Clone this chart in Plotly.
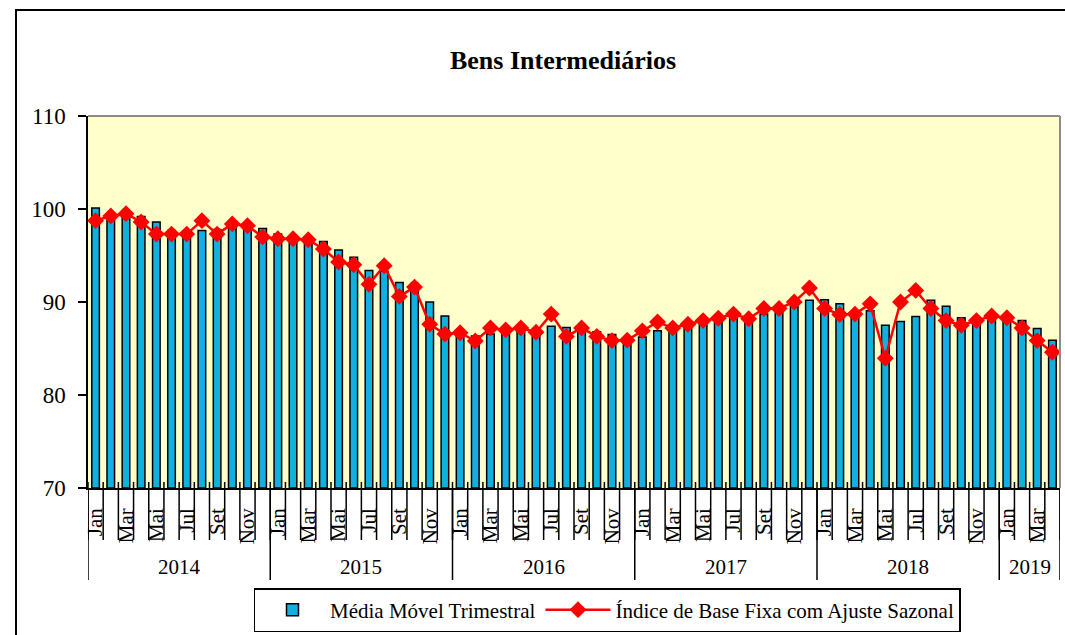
import plotly.graph_objects as go

# ---- data ----
years = [2014, 2015, 2016, 2017, 2018, 2019]
month_names = ["Jan", "Fev", "Mar", "Abr", "Mai", "Jun", "Jul", "Ago", "Set", "Out", "Nov", "Dez"]
months_per_year = [12, 12, 12, 12, 12, 4]

media_movel = [
    100.1, 99.5, 99.3, 99.2, 98.6, 97.7, 97.3, 97.7, 97.8, 98.2, 98.0, 97.9,
    97.3, 96.9, 96.8, 96.5, 95.6, 94.8, 93.4, 93.3, 92.1, 92.0, 90.0, 88.5,
    86.95, 86.35, 86.55, 86.65, 87.0, 87.0, 87.4, 87.25, 87.2, 86.8, 86.5, 86.05,
    86.25, 86.9, 87.2, 87.5, 87.65, 87.95, 88.3, 88.4, 88.7, 88.95, 89.5, 90.2,
    90.25, 89.8, 88.9, 89.05, 87.5, 87.9, 88.45, 90.2, 89.55, 88.3, 87.85, 88.0,
    88.25, 88.0, 87.15, 85.9,
]
indice_ajuste = [
    98.75, 99.25, 99.5, 98.6, 97.3, 97.3, 97.3, 98.75, 97.3, 98.4, 98.2, 97.0,
    96.8, 96.8, 96.7, 95.7, 94.3, 94.0, 91.9, 93.9, 90.6, 91.6, 87.6, 86.55,
    86.7, 85.8, 87.2, 87.0, 87.2, 86.75, 88.7, 86.3, 87.2, 86.3, 85.85, 85.9,
    86.9, 87.85, 87.2, 87.6, 88.0, 88.25, 88.7, 88.2, 89.3, 89.3, 90.0, 91.5,
    89.3, 88.65, 88.7, 89.8, 83.95, 90.0, 91.25, 89.3, 88.0, 87.5, 88.0, 88.5,
    88.3, 87.2, 85.85, 84.6,
]

# categories
categories = []
cat_month = []
for y, n in zip(years, months_per_year):
    for m in range(n):
        categories.append(f"{month_names[m]} {y}")
        cat_month.append(month_names[m])

SERIF = "Liberation Serif"
BASE = 70

W, H = 1065, 635
ML, MR, MT, MB = 88, 5, 116, 147
PW = W - ML - MR
PH = H - MT - MB

fig = go.Figure()
fig.add_trace(go.Bar(
    x=categories, y=[v - BASE for v in media_movel], base=BASE,
    name="Média Móvel Trimestral",
    width=0.5,
    marker=dict(color="#12B0E0", line=dict(color="black", width=1.5)),
))
fig.add_trace(go.Scatter(
    x=categories, y=indice_ajuste, name="Índice de Base Fixa com Ajuste Sazonal",
    mode="lines+markers",
    line=dict(color="#FF0000", width=2.5),
    marker=dict(symbol="diamond", size=13, color="#FF0000"),
))

# tick labels: every other month
tickvals = [categories[i] for i in range(0, len(categories), 2)]
ticktext = [cat_month[i] for i in range(0, len(categories), 2)]

n = len(categories)
shapes = []
# month separators
for i in range(n + 1):
    shapes.append(dict(type="line", xref="x", yref="paper", x0=i - 0.5, x1=i - 0.5,
                       y0=6 / PH, y1=-52 / PH, line=dict(color="black", width=1.5)))
# year separators and labels
bounds = [0]
for cnt in months_per_year:
    bounds.append(bounds[-1] + cnt)
for b in bounds:
    shapes.append(dict(type="line", xref="x", yref="paper", x0=b - 0.5, x1=b - 0.5,
                       y0=0, y1=-92 / PH, line=dict(color="black", width=1.5)))
annotations = []
for y, a, b in zip(years, bounds[:-1], bounds[1:]):
    annotations.append(dict(x=(a + b - 1) / 2, y=-79 / PH, xref="x", yref="paper",
                            text=str(y), showarrow=False, yanchor="middle",
                            font=dict(family=SERIF, size=21, color="black")))
# plot-area top/right border (gray)
shapes.append(dict(type="line", xref="paper", yref="paper", x0=0, x1=1, y0=1, y1=1,
                   line=dict(color="#8C8C8C", width=2)))
shapes.append(dict(type="line", xref="paper", yref="paper", x0=1, x1=1, y0=0, y1=1,
                   line=dict(color="#8C8C8C", width=2)))
# outer chart frame (left and top edges visible)
shapes.append(dict(type="rect", xref="paper", yref="paper",
                   x0=(16 - ML) / PW, x1=1.05, y0=-0.5, y1=(PH + MT - 10) / PH,
                   line=dict(color="black", width=2), fillcolor="rgba(0,0,0,0)"))

fig.update_layout(
    width=W, height=H,
    margin=dict(l=ML, r=MR, t=MT, b=MB, autoexpand=False),
    paper_bgcolor="white",
    plot_bgcolor="#FFFFCC",
    title=dict(text="<b>Bens Intermediários</b>", x=563 / W, xanchor="center",
               y=1 - 60 / H, yanchor="middle",
               font=dict(family=SERIF, size=26, color="black")),
    font=dict(family=SERIF, color="black"),
    showlegend=True,
    legend=dict(orientation="h", x=(607 - ML) / PW, xanchor="center",
                y=-144 / PH, yanchor="bottom",
                bordercolor="black", borderwidth=1.5, bgcolor="white",
                font=dict(family=SERIF, size=21, color="black"),
                itemwidth=65, tracegroupgap=0),
    shapes=shapes,
    annotations=annotations,
    xaxis=dict(type="category", categoryorder="array", categoryarray=categories,
               range=[-0.5, n - 0.5],
               tickmode="array", tickvals=tickvals, ticktext=ticktext,
               tickangle=-90, ticks="outside", ticklen=10, tickcolor="rgba(0,0,0,0)",
               tickfont=dict(family=SERIF, size=21, color="black"),
               showline=True, linecolor="black", linewidth=1.5,
               showgrid=False, zeroline=False, fixedrange=True),
    yaxis=dict(range=[70, 110], dtick=10, tick0=70,
               ticks="outside", ticklen=8, tickwidth=1.5, tickcolor="black",
               ticklabelstandoff=8,
               tickfont=dict(family=SERIF, size=23, color="black"),
               showline=True, linecolor="black", linewidth=1.5,
               showgrid=False, zeroline=False, fixedrange=True),
)

fig.write_html(
    "out.html",
    config={"displayModeBar": False},
    post_script="document.body.style.margin='0';document.body.style.overflow='hidden';",
)
